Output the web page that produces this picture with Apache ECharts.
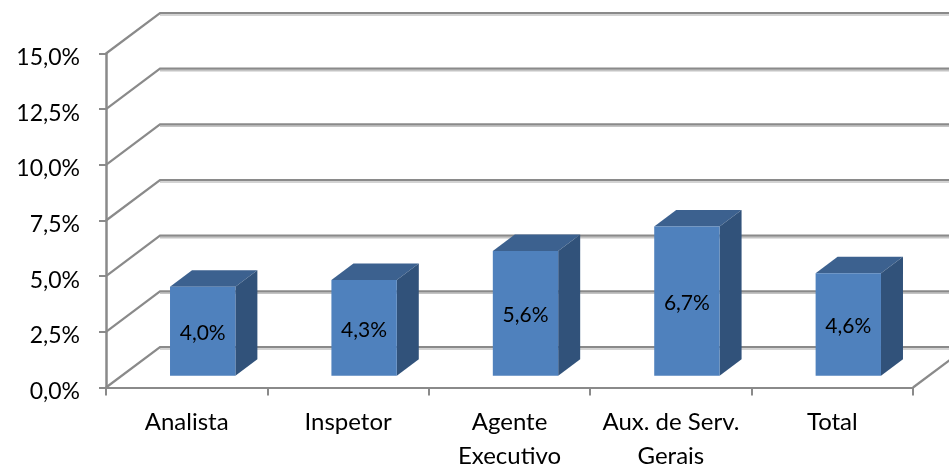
<!DOCTYPE html>
<html lang="pt">
<head>
    <meta charset="UTF-8">
    <title>Analista, Inspetor, Agente Executivo</title>
    <script type="text/javascript" src="https://cdn.jsdelivr.net/npm/echarts@6/dist/echarts.min.js"></script>
    <style>
        html, body { margin: 0; padding: 0; background: #fff; }
        #main { width: 949px; height: 467px; }
    </style>
</head>
<body>
<div id="main"></div>
<script type="text/javascript">
    var categories = ['Analista', 'Inspetor', 'Agente\nExecutivo', 'Aux. de Serv.\nGerais', 'Total'];
    var values = [4.0, 4.3, 5.6, 6.7, 4.6];
    var yTicks = [0, 2.5, 5, 7.5, 10, 12.5, 15];

    // fake 3D: pixel offsets of the back wall and of the bars inside the floor
    var wallDx = 54, wallDy = -40.5;
    var barDx = 16, barDy = -11.8;
    var sideDx = 22, sideDy = -16.4;
    var fontName = 'Lato';

    function pct(v) {
        return v.toFixed(1).replace('.', ',') + '%';
    }

    function renderWall(params, api) {
        var cs = params.coordSys;
        var p = api.coord([0, api.value(1)]);
        var x0 = cs.x, y = p[1];
        var children = [];
        // light shadow under the back line
        children.push({
            type: 'polyline',
            shape: {points: [[x0 + wallDx, y + wallDy + 2], [x0 + cs.width + wallDx, y + wallDy + 2]]},
            style: {stroke: '#c4c4c4', lineWidth: 1.5, fill: null}
        });
        children.push({
            type: 'polyline',
            shape: {points: [[x0, y], [x0 + wallDx, y + wallDy], [x0 + cs.width + wallDx, y + wallDy]]},
            style: {stroke: '#8a8a8a', lineWidth: 2.2, fill: null}
        });
        if (api.value(1) === 0) {
            children.push({
                type: 'polyline',
                shape: {points: [[x0 + cs.width, y], [x0 + cs.width + wallDx, y + wallDy]]},
                style: {stroke: '#8a8a8a', lineWidth: 2.2, fill: null}
            });
        }
        return {type: 'group', children: children};
    }

    function renderBar(params, api) {
        var i = api.value(0), v = api.value(1);
        var base = api.coord([i, 0]), top = api.coord([i, v]);
        var w = api.size([1, 0])[0] * 0.405;
        var l = base[0] + barDx - w / 2, r = l + w;
        var b = base[1] + barDy, t = top[1] + barDy;
        return {
            type: 'group',
            children: [{
                type: 'polygon',
                shape: {points: [[l, t], [r, t], [r + sideDx, t + sideDy], [l + sideDx, t + sideDy]]},
                style: {fill: '#3c618f'}
            }, {
                type: 'polygon',
                shape: {points: [[r, t], [r + sideDx, t + sideDy], [r + sideDx, b + sideDy], [r, b]]},
                style: {fill: '#31527a'}
            }, {
                type: 'rect',
                shape: {x: l, y: t, width: w, height: b - t},
                style: {fill: '#4f81bd'}
            }, {
                type: 'text',
                style: {
                    x: (l + r) / 2, y: (t + b) / 2 + 2,
                    text: pct(v),
                    fill: '#000',
                    font: '21px ' + fontName,
                    align: 'center',
                    verticalAlign: 'middle'
                }
            }]
        };
    }

    var chart = echarts.init(document.getElementById('main'));
    chart.setOption({
        animation: false,
        grid: {left: 106, right: 36, top: 53.5, bottom: 79.5, outerBoundsMode: 'none'},
        xAxis: {
            type: 'category',
            data: categories,
            axisLine: {lineStyle: {color: '#8a8a8a', width: 2}},
            axisTick: {show: true, alignWithLabel: false, length: 8, lineStyle: {color: '#8a8a8a', width: 2}},
            axisLabel: {color: '#000', fontFamily: fontName, fontSize: 24, lineHeight: 34, margin: 18, interval: 0}
        },
        yAxis: {
            type: 'value',
            min: 0,
            max: 15,
            interval: 2.5,
            axisLine: {show: true, lineStyle: {color: '#8a8a8a', width: 2.5}},
            axisTick: {show: true, length: 7, lineStyle: {color: '#8a8a8a', width: 2}},
            splitLine: {show: false},
            axisLabel: {
                color: '#000', fontFamily: fontName, fontSize: 23, margin: 26,
                verticalAlign: 'top', lineHeight: 8, formatter: pct
            }
        },
        series: [{
            type: 'custom',
            renderItem: renderWall,
            clip: false,
            z: 1,
            silent: true,
            encode: {x: 0, y: 1},
            data: yTicks.map(function (v) { return [0, v]; })
        }, {
            type: 'custom',
            renderItem: renderBar,
            clip: false,
            z: 2,
            silent: true,
            encode: {x: 0, y: 1},
            data: values.map(function (v, i) { return [i, v]; })
        }]
    });
</script>
</body>
</html>
